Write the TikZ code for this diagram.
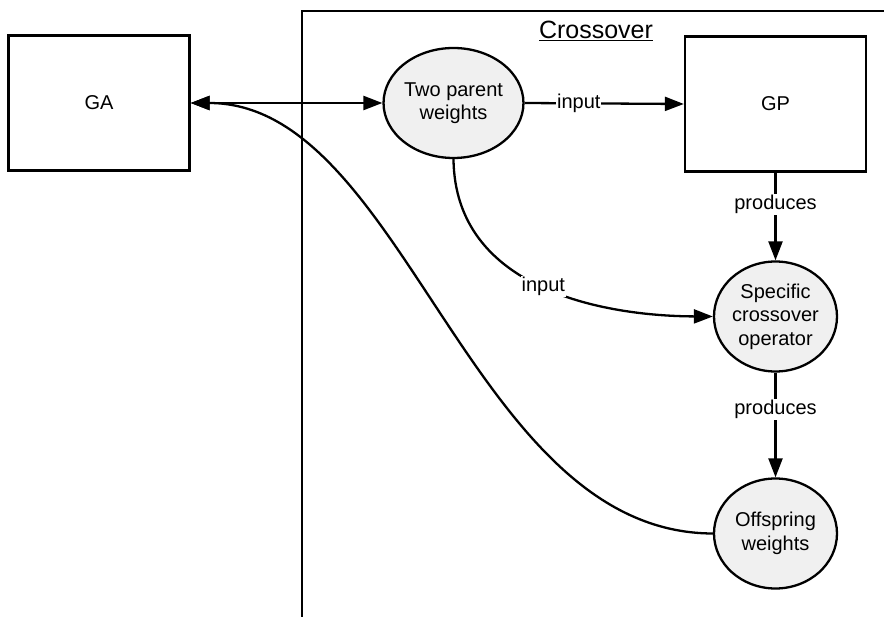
\documentclass[tikz,border=0pt]{standalone}
\usepackage{fontspec}
\setmainfont{Liberation Sans}
\usetikzlibrary{arrows.meta,shapes.geometric}

\begin{document}
\begin{tikzpicture}[x=1pt,y=-1pt,
  every node/.style={font=\fontsize{20}{23.5}\selectfont},
  box/.style={draw,line width=2.3pt,minimum width=181pt,minimum height=135pt,inner sep=0pt},
  blob/.style={draw,ellipse,fill=gray!12,line width=2.3pt,minimum width=123pt,
               minimum height=110pt,inner sep=0pt,align=center},
  tip/.tip={Triangle[length=19pt,width=14pt]},
  link/.style={line width=2.3pt,-tip},
  tag/.style={fill=white,inner sep=1pt}]
\useasboundingbox (0,0) rectangle (884,617);

% crossover frame (open to the right and bottom)
\draw[line width=2.3pt] (302,617) -- (302,11) -- (884,11);
\node (title) at (596,31) {\fontsize{25}{29}\selectfont\underline{Crossover}};

% nodes
\node[box]  (ga)   at (99,103)    {GA};
\node[box]  (gp)   at (775.5,104) {GP};
\node[blob] (two)  at (453.5,103) {Two parent\\weights};
\node[blob] (spec) at (775.5,316.5) {Specific\\crossover\\operator};
\node[blob] (off)  at (775.5,533.5) {Offspring\\weights};

% connectors
\draw[line width=2.3pt,tip-tip] (ga.east) -- (two.west);
\draw[link] (two.east) -- node[tag,pos=0.34] {input} (gp.west);
\draw[link] (gp.south) -- node[tag,pos=0.36] {produces} (spec.north);
\draw[link] (spec.south) -- node[tag,pos=0.35] {produces} (off.north);
\draw[link] (two.south) .. controls (455,290) and (605,316) ..
  node[tag,pos=0.5] {input} (spec.west);
\draw[link] (off.west) .. controls (470,533) and (405,103) .. (ga.east);
\end{tikzpicture}
\end{document}
